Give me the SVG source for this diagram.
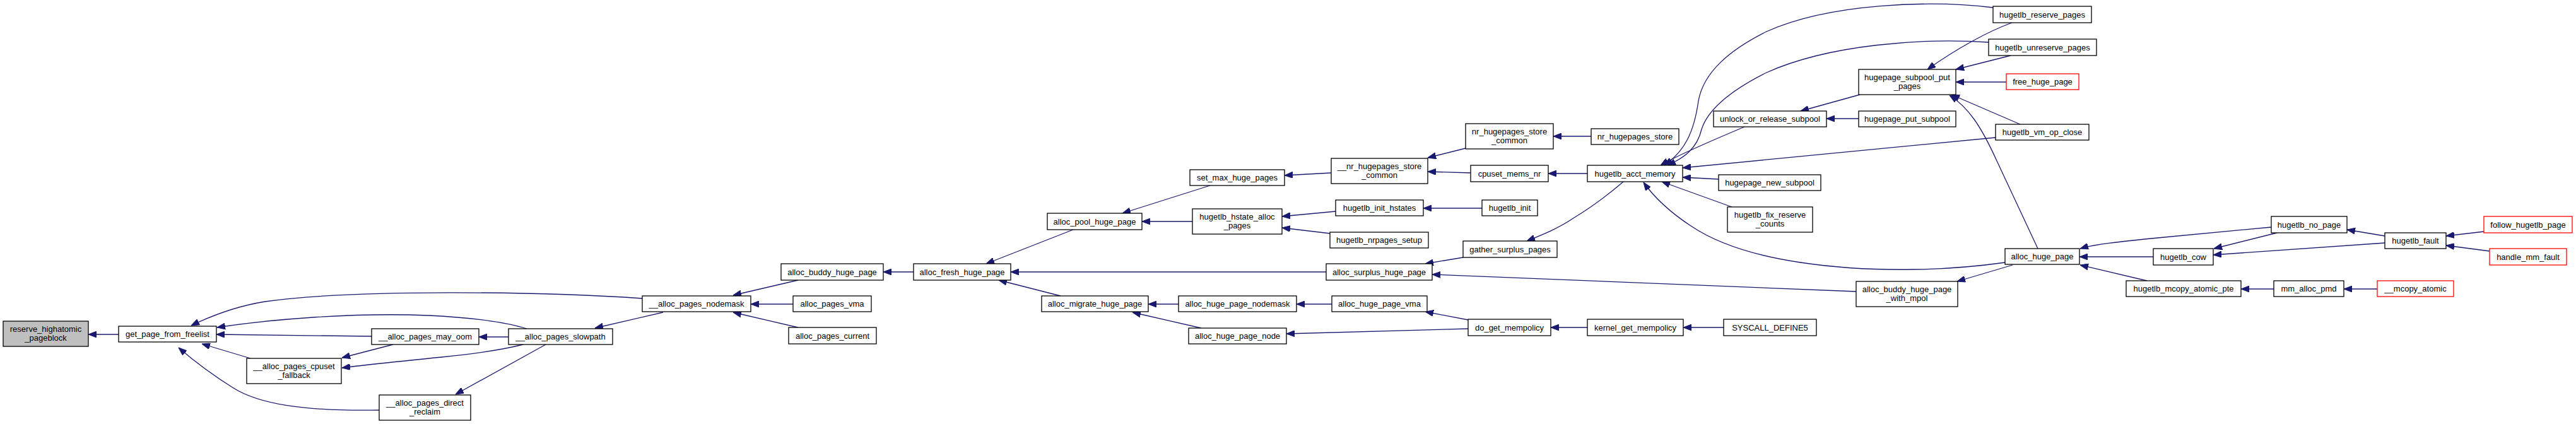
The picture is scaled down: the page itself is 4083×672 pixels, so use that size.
<svg xmlns="http://www.w3.org/2000/svg" width="4083" height="672" viewBox="0 0 4083 672">
<style>
.node rect{fill:#fff;stroke:#000;stroke-width:1.3}
.node.red rect{stroke:#ff0000}
.node.gray rect{fill:#bfbfbf}
text{font-family:"Liberation Sans",Arial,sans-serif;font-size:13px;text-anchor:middle;fill:#000}
#edges path{fill:none;stroke:#191970;stroke-width:1.3;marker-end:url(#arr)}
</style>
<defs>
<marker id="arr" markerUnits="userSpaceOnUse" viewBox="0 0 13 10" refX="13" refY="5" markerWidth="13" markerHeight="10" orient="auto">
<path d="M0,0 L13,5 L0,10 z" fill="#191970" stroke="#191970" stroke-width="1"/>
</marker>
</defs>
<rect width="4083" height="672" fill="#fff"/>
<g id="edges">
<path d="M188,530 L140,530"/>
<path d="M1018,473 C860,462 560,458 420,478 C370,486 330,503 303,516"/>
<path d="M835,521 C800,510 740,503 680,500 C560,495 430,506 344,519"/>
<path d="M589,533 L343,530"/>
<path d="M397,568 L320,545"/>
<path d="M601,650 C480,652 410,640 370,615 C330,590 305,570 283,551"/>
<path d="M623,546 L542,567"/>
<path d="M829,546 C790,556 740,562 700,566 C640,572 590,577 542,583"/>
<path d="M806,534 L759,534"/>
<path d="M865,546 L722,625"/>
<path d="M1051,495 L943,520"/>
<path d="M1265,444 L1162,468"/>
<path d="M1257,482 L1190,482"/>
<path d="M1265,519 L1162,495"/>
<path d="M1448,431 L1400,431"/>
<path d="M1701,364 L1563,418"/>
<path d="M2102,431 L1602,431"/>
<path d="M1681,469 L1583,444"/>
<path d="M1918,294 L1779,338"/>
<path d="M1890,351 L1810,351"/>
<path d="M2110,274 L2036,278"/>
<path d="M2323,235 L2263,250"/>
<path d="M2331,274 L2263,272"/>
<path d="M2522,216 L2462,216"/>
<path d="M2516,275 L2454,275"/>
<path d="M2349,330 L2256,330"/>
<path d="M2117,335 L2032,343"/>
<path d="M2108,370 L2032,361"/>
<path d="M2319,408 L2259,418"/>
<path d="M2942,462 L2270,435"/>
<path d="M1868,482 L1820,482"/>
<path d="M1904,520 L1795,495"/>
<path d="M2111,482 L2055,482"/>
<path d="M2327,507 L2259,494"/>
<path d="M2327,521 L2039,529"/>
<path d="M2516,519 L2458,519"/>
<path d="M2732,519 L2668,519"/>
<path d="M2573,288 C2545,312 2520,330 2495,345 C2470,362 2445,372 2420,382"/>
<path d="M2765,201 C2720,220 2660,245 2632,262"/>
<path d="M3159,12 C3060,0 2900,5 2800,50 C2740,80 2700,115 2692,160 C2685,210 2670,240 2638,262"/>
<path d="M3152,67 C3050,60 2900,70 2800,115 C2730,150 2705,180 2697,205 C2690,235 2670,250 2643,262"/>
<path d="M3163,218 L2667,266"/>
<path d="M2724,284 L2667,281"/>
<path d="M2745,328 L2634,288"/>
<path d="M3178,416 C3080,430 2960,432 2854,416 C2780,405 2720,385 2680,358 C2645,335 2620,310 2605,289"/>
<path d="M2948,150 L2854,176"/>
<path d="M2946,188 L2895,188"/>
<path d="M3189,36 C3150,50 3100,78 3055,110"/>
<path d="M3187,88 L3100,110"/>
<path d="M3180,130 L3100,130"/>
<path d="M3202,197 L3093,150"/>
<path d="M3230,394 L3165,255 C3140,200 3120,170 3090,151"/>
<path d="M3190,420 L3102,446"/>
<path d="M3600,360 L3420,377 C3360,383 3320,387 3297,394"/>
<path d="M3413,407 L3296,407"/>
<path d="M3403,445 L3297,420"/>
<path d="M3609,369 L3509,394"/>
<path d="M3780,374 L3720,364"/>
<path d="M3780,385 L3508,404"/>
<path d="M3937,367 L3877,374"/>
<path d="M3946,398 L3877,389"/>
<path d="M3604,458 L3552,458"/>
<path d="M3768,458 L3715,458"/>
</g>
<g id="n1" class="node gray"><rect x="5" y="509" width="135" height="40"/><text x="72.5" y="526">reserve_highatomic</text><text x="72.5" y="540">_pageblock</text></g>
<g id="n2" class="node"><rect x="188" y="517" width="155" height="25"/><text x="265.5" y="534">get_page_from_freelist</text></g>
<g id="n3" class="node"><rect x="589" y="521" width="170" height="25"/><text x="674" y="538">__alloc_pages_may_oom</text></g>
<g id="n4" class="node"><rect x="391" y="568" width="150" height="40"/><text x="466" y="585">__alloc_pages_cpuset</text><text x="466" y="599">_fallback</text></g>
<g id="n5" class="node"><rect x="601" y="626" width="145" height="40"/><text x="673.5" y="643">__alloc_pages_direct</text><text x="673.5" y="657">_reclaim</text></g>
<g id="n6" class="node"><rect x="806" y="521" width="165" height="25"/><text x="888.5" y="538">__alloc_pages_slowpath</text></g>
<g id="n7" class="node"><rect x="1018" y="469" width="172" height="25"/><text x="1104" y="486">__alloc_pages_nodemask</text></g>
<g id="n8" class="node"><rect x="1238" y="418" width="162" height="26"/><text x="1319" y="435.5">alloc_buddy_huge_page</text></g>
<g id="n9" class="node"><rect x="1257" y="469" width="124" height="25"/><text x="1319" y="486">alloc_pages_vma</text></g>
<g id="n10" class="node"><rect x="1250" y="519" width="139" height="26"/><text x="1319.5" y="536.5">alloc_pages_current</text></g>
<g id="n11" class="node"><rect x="1448" y="418" width="154" height="26"/><text x="1525" y="435.5">alloc_fresh_huge_page</text></g>
<g id="n12" class="node"><rect x="1660" y="338" width="150" height="26"/><text x="1735" y="355.5">alloc_pool_huge_page</text></g>
<g id="n13" class="node"><rect x="1651" y="469" width="169" height="25"/><text x="1735.5" y="486">alloc_migrate_huge_page</text></g>
<g id="n14" class="node"><rect x="1886" y="269" width="150" height="25"/><text x="1961" y="286">set_max_huge_pages</text></g>
<g id="n15" class="node"><rect x="1890" y="331" width="142" height="40"/><text x="1961" y="348">hugetlb_hstate_alloc</text><text x="1961" y="362">_pages</text></g>
<g id="n16" class="node"><rect x="1868" y="469" width="187" height="25"/><text x="1961.5" y="486">alloc_huge_page_nodemask</text></g>
<g id="n17" class="node"><rect x="1884" y="520" width="155" height="25"/><text x="1961.5" y="537">alloc_huge_page_node</text></g>
<g id="n18" class="node"><rect x="2110" y="251" width="153" height="40"/><text x="2186.5" y="268">__nr_hugepages_store</text><text x="2186.5" y="282">_common</text></g>
<g id="n19" class="node"><rect x="2117" y="317" width="139" height="25"/><text x="2186.5" y="334">hugetlb_init_hstates</text></g>
<g id="n20" class="node"><rect x="2108" y="368" width="156" height="25"/><text x="2186" y="385">hugetlb_nrpages_setup</text></g>
<g id="n21" class="node"><rect x="2102" y="418" width="168" height="26"/><text x="2186" y="435.5">alloc_surplus_huge_page</text></g>
<g id="n22" class="node"><rect x="2111" y="469" width="151" height="25"/><text x="2186.5" y="486">alloc_huge_page_vma</text></g>
<g id="n23" class="node"><rect x="2323" y="196" width="139" height="40"/><text x="2392.5" y="213">nr_hugepages_store</text><text x="2392.5" y="227">_common</text></g>
<g id="n24" class="node"><rect x="2331" y="262" width="123" height="26"/><text x="2392.5" y="279.5">cpuset_mems_nr</text></g>
<g id="n25" class="node"><rect x="2349" y="317" width="88" height="25"/><text x="2393" y="334">hugetlb_init</text></g>
<g id="n26" class="node"><rect x="2319" y="382" width="149" height="26"/><text x="2393.5" y="399.5">gather_surplus_pages</text></g>
<g id="n27" class="node"><rect x="2327" y="506" width="131" height="26"/><text x="2392.5" y="523.5">do_get_mempolicy</text></g>
<g id="n28" class="node"><rect x="2522" y="204" width="139" height="25"/><text x="2591.5" y="221">nr_hugepages_store</text></g>
<g id="n29" class="node"><rect x="2516" y="262" width="151" height="26"/><text x="2591.5" y="279.5">hugetlb_acct_memory</text></g>
<g id="n30" class="node"><rect x="2516" y="506" width="152" height="26"/><text x="2592" y="523.5">kernel_get_mempolicy</text></g>
<g id="n31" class="node"><rect x="2716" y="176" width="179" height="25"/><text x="2805.5" y="193">unlock_or_release_subpool</text></g>
<g id="n32" class="node"><rect x="2724" y="277" width="162" height="25"/><text x="2805" y="294">hugepage_new_subpool</text></g>
<g id="n33" class="node"><rect x="2738" y="328" width="135" height="40"/><text x="2805.5" y="345">hugetlb_fix_reserve</text><text x="2805.5" y="359">_counts</text></g>
<g id="n34" class="node"><rect x="2732" y="506" width="147" height="26"/><text x="2805.5" y="523.5">SYSCALL_DEFINE5</text></g>
<g id="n35" class="node"><rect x="2946" y="110" width="154" height="40"/><text x="3023" y="127">hugepage_subpool_put</text><text x="3023" y="141">_pages</text></g>
<g id="n36" class="node"><rect x="2946" y="176" width="154" height="25"/><text x="3023" y="193">hugepage_put_subpool</text></g>
<g id="n37" class="node"><rect x="2942" y="446" width="161" height="40"/><text x="3022.5" y="463">alloc_buddy_huge_page</text><text x="3022.5" y="477">_with_mpol</text></g>
<g id="n38" class="node"><rect x="3159" y="10" width="156" height="26"/><text x="3237" y="27.5">hugetlb_reserve_pages</text></g>
<g id="n39" class="node"><rect x="3152" y="62" width="171" height="26"/><text x="3237.5" y="79.5">hugetlb_unreserve_pages</text></g>
<g id="n40" class="node red"><rect x="3180" y="117" width="115" height="25"/><text x="3237.5" y="134">free_huge_page</text></g>
<g id="n41" class="node"><rect x="3163" y="197" width="148" height="25"/><text x="3237" y="214">hugetlb_vm_op_close</text></g>
<g id="n42" class="node"><rect x="3178" y="394" width="118" height="25"/><text x="3237" y="411">alloc_huge_page</text></g>
<g id="n43" class="node"><rect x="3600" y="343" width="120" height="26"/><text x="3660" y="360.5">hugetlb_no_page</text></g>
<g id="n44" class="node"><rect x="3413" y="394" width="95" height="26"/><text x="3460.5" y="411.5">hugetlb_cow</text></g>
<g id="n45" class="node"><rect x="3370" y="445" width="182" height="25"/><text x="3461" y="462">hugetlb_mcopy_atomic_pte</text></g>
<g id="n46" class="node"><rect x="3780" y="369" width="97" height="25"/><text x="3828.5" y="386">hugetlb_fault</text></g>
<g id="n47" class="node"><rect x="3604" y="445" width="111" height="25"/><text x="3659.5" y="462">mm_alloc_pmd</text></g>
<g id="n48" class="node red"><rect x="3937" y="343" width="140" height="26"/><text x="4007" y="360.5">follow_hugetlb_page</text></g>
<g id="n49" class="node red"><rect x="3946" y="394" width="122" height="26"/><text x="4007" y="411.5">handle_mm_fault</text></g>
<g id="n50" class="node red"><rect x="3768" y="445" width="121" height="25"/><text x="3828.5" y="462">__mcopy_atomic</text></g>
</svg>
